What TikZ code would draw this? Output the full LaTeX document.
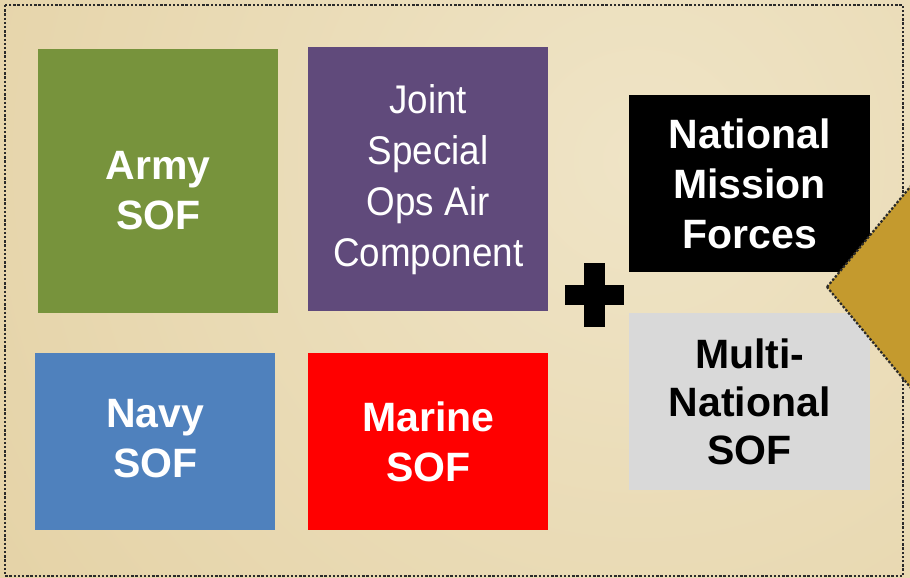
\documentclass[tikz,border=0pt]{standalone}
\usepackage{fontspec}
\setmainfont{Liberation Sans}
\newfontfamily\narrowfont[FakeStretch=0.92]{Liberation Sans}
\definecolor{bgA}{HTML}{EFE4C6}
\definecolor{bgB}{HTML}{DAC085}
\definecolor{armyc}{HTML}{77933C}
\definecolor{jointc}{HTML}{604A7B}
\definecolor{navyc}{HTML}{4F81BD}
\definecolor{marinec}{HTML}{FF0000}
\definecolor{mnc}{HTML}{D9D9D9}
\definecolor{goldc}{HTML}{C49A2E}
\definecolor{framec}{HTML}{2A2A2A}
\tikzset{
  box/.style={rectangle, inner sep=0pt, anchor=north west,
    minimum width=240pt},
  lbl/.style={inner sep=0pt, align=center, text=white,
    font=\bfseries\fontsize{41}{50}\selectfont},
  dotline/.style={draw=framec, line width=2.6pt, dash pattern=on 2.4pt off 1.8pt}
}
\begin{document}
\begin{tikzpicture}[x=1pt,y=-1pt]
\useasboundingbox (0,0) rectangle (910,578);
% background
\begin{scope}
\clip (0,0) rectangle (910,578);
\shade[inner color=bgA, outer color=bgB] (640,160) circle (1600);
\end{scope}
% frame
\draw[dotline] (5,5) rectangle (903,576);
% boxes
\node[box, fill=armyc, minimum height=264pt] (army) at (38,49) {};
\node[lbl] (armyt) at ([yshift=-9pt]army.center) {Army\\SOF};
\node[box, fill=jointc, minimum height=264pt] (joint) at (308,47) {};
\node[lbl, font=\narrowfont\fontsize{40}{51}\selectfont] (jointt) at (joint.center)
  {Joint\\Special\\Ops Air\\Component};
\node[box, fill=navyc, minimum height=177pt] (navy) at (35,353) {};
\node[lbl] (navyt) at ([yshift=3pt]navy.center) {Navy\\SOF};
\node[box, fill=marinec, minimum height=177pt] (marine) at (308,353) {};
\node[lbl] (marinet) at (marine.center) {Marine\\SOF};
\node[box, fill=black, minimum width=241pt, minimum height=177pt] (nmf) at (629,95) {};
\node[lbl] (nmft) at (nmf.center) {National\\Mission\\Forces};
\node[box, fill=mnc, minimum width=241pt, minimum height=177pt] (mn) at (629,313) {};
\node[lbl, text=black, font=\bfseries\fontsize{41}{48}\selectfont] (mnt) at (mn.center)
  {Multi-\\National\\SOF};
% plus sign
\fill[black] (584,263) rectangle (605,327);
\fill[black] (565,285) rectangle (624,305);
% gold diamond
\draw[dotline, line width=2.2pt, fill=goldc] (827,287) -- (940,151) -- (1050,287) -- (940,423) -- cycle;
\end{tikzpicture}
\end{document}
